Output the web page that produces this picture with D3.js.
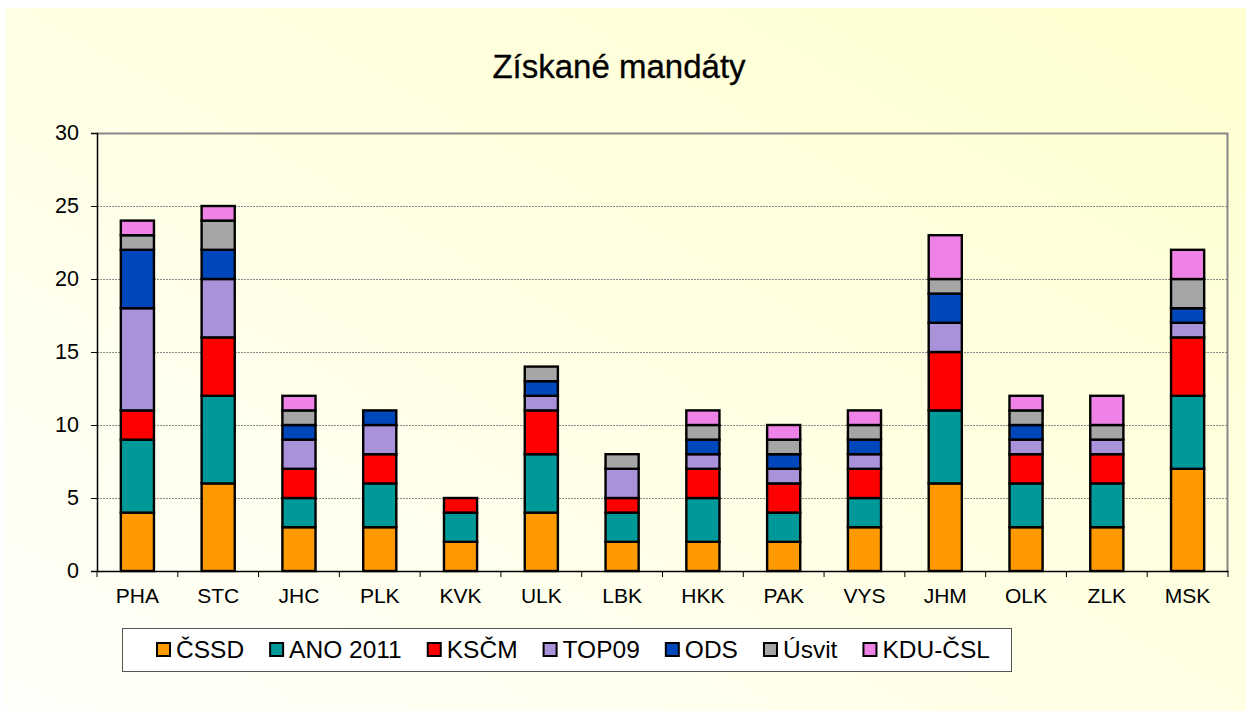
<!DOCTYPE html>
<html>
<head>
<meta charset="utf-8">
<script src="https://cdn.jsdelivr.net/npm/d3@7"></script>
<style>
  body { margin: 0; background: #fff; }
  svg { display: block; font-family: "Liberation Sans", Arial, sans-serif; }
</style>
</head>
<body>
<script>
const width = 1246;
const height = 711;

// data
const regions = ["PHA", "STC", "JHC", "PLK", "KVK", "ULK", "LBK", "HKK", "PAK", "VYS", "JHM", "OLK", "ZLK", "MSK"];
const parties = ["ČSSD", "ANO 2011", "KSČM", "TOP09", "ODS", "Úsvit", "KDU-ČSL"];
const cssd   = [4, 6, 3, 3, 2, 4, 2, 2, 2, 3, 6, 3, 3, 7];
const ano    = [5, 6, 2, 3, 2, 4, 2, 3, 2, 2, 5, 3, 3, 5];
const kscm   = [2, 4, 2, 2, 1, 3, 1, 2, 2, 2, 4, 2, 2, 4];
const top09  = [7, 4, 2, 2, 0, 1, 2, 1, 1, 1, 2, 1, 1, 1];
const ods    = [4, 2, 1, 1, 0, 1, 0, 1, 1, 1, 2, 1, 0, 1];
const usvit  = [1, 2, 1, 0, 0, 1, 1, 1, 1, 1, 1, 1, 1, 2];
const kdu    = [1, 1, 1, 0, 0, 0, 0, 1, 1, 1, 3, 1, 2, 2];
const yTicks = [0, 5, 10, 15, 20, 25, 30];
const colors = ["#FF9900", "#009999", "#FF0000", "#A992DA", "#0047BB", "#A6A6A6", "#EE82E6"];

const series = [cssd, ano, kscm, top09, ods, usvit, kdu];
const rows = regions.map((r, i) => {
  const o = {region: r};
  parties.forEach((p, j) => o[p] = series[j][i]);
  return o;
});
const stacked = d3.stack().keys(parties)(rows);

const svg = d3.select("body").append("svg")
  .attr("width", width)
  .attr("height", height);

const defs = svg.append("defs");
const grad = defs.append("linearGradient")
  .attr("id", "bg")
  .attr("x1", 1).attr("y1", 0).attr("x2", 0).attr("y2", 1);
grad.append("stop").attr("offset", 0).attr("stop-color", "#FFFFCF");
grad.append("stop").attr("offset", 1).attr("stop-color", "#FFFFFA");

svg.append("rect")
  .attr("x", 5).attr("y", 8)
  .attr("width", width - 5).attr("height", height - 8)
  .attr("fill", "url(#bg)");

const margin = {left: 97, right: 18, top: 133, bottom: 140};
const x = d3.scaleBand().domain(regions).range([margin.left, width - margin.right]).paddingInner(0.59).paddingOuter(0.295);
const y = d3.scaleLinear().domain([0, 30]).range([height - margin.bottom, margin.top]);
const color = d3.scaleOrdinal().domain(parties).range(colors);

// title
svg.append("text")
  .attr("x", 619).attr("y", 78)
  .attr("text-anchor", "middle")
  .attr("font-size", 33)
  .attr("fill", "#000")
  .attr("stroke", "#000")
  .attr("stroke-width", 0.3)
  .text("Získané mandáty");

// grid
svg.append("g")
  .selectAll("line")
  .data(yTicks.filter(d => d > 0 && d < 30))
  .join("line")
  .attr("x1", margin.left).attr("x2", width - margin.right)
  .attr("y1", d => y(d) + 0.5).attr("y2", d => y(d) + 0.5)
  .attr("stroke", "#8c8c8c")
  .attr("stroke-dasharray", "2,1");

// plot border top/right
svg.append("path")
  .attr("d", `M${margin.left},${y(30) + 0.5}H${width - margin.right - 0.5}V${y(0)}`)
  .attr("fill", "none")
  .attr("stroke", "#888")
  .attr("stroke-width", 2);

// bars
svg.append("g")
  .selectAll("g")
  .data(stacked)
  .join("g")
  .attr("fill", d => color(d.key))
  .selectAll("rect")
  .data(d => d.filter(s => s[1] > s[0]))
  .join("rect")
  .attr("x", d => x(d.data.region))
  .attr("y", d => y(d[1]))
  .attr("width", x.bandwidth())
  .attr("height", d => y(d[0]) - y(d[1]))
  .attr("stroke", "#000")
  .attr("stroke-width", 2.4);

// y axis
const yAxis = svg.append("g")
  .attr("transform", `translate(${margin.left},0)`)
  .call(d3.axisLeft(y).tickValues(yTicks).tickSize(6).tickPadding(12).tickFormat(d3.format("d")));
yAxis.selectAll("text").attr("font-size", 21.5).attr("fill", "#000").attr("font-family", "Liberation Sans, Arial, sans-serif");
yAxis.selectAll("line").attr("stroke", "#000");
yAxis.select(".domain").attr("stroke", "#000").attr("stroke-width", 1.5);

// x axis
const xAxis = svg.append("g")
  .attr("transform", `translate(0,${y(0)})`)
  .call(d3.axisBottom(x).tickSize(0).tickPadding(17));
xAxis.selectAll("text").attr("font-size", 21).attr("fill", "#000").attr("font-family", "Liberation Sans, Arial, sans-serif");
xAxis.select(".domain").attr("stroke", "#000").attr("stroke-width", 1.5);
const step = x.step();
xAxis.append("g")
  .selectAll("line")
  .data(d3.range(regions.length + 1))
  .join("line")
  .attr("x1", i => margin.left + i * step).attr("x2", i => margin.left + i * step)
  .attr("y1", 0).attr("y2", 6)
  .attr("stroke", "#000");

// legend
const legend = svg.append("g");
legend.append("rect")
  .attr("x", 122.5).attr("y", 628.5)
  .attr("width", 889).attr("height", 43)
  .attr("fill", "#fff")
  .attr("stroke", "#555")
  .attr("stroke-width", 1);

const legendStart = 156, legendEnd = 990;
const items = parties.map(p => {
  const item = legend.append("g");
  item.append("rect")
    .attr("x", 1).attr("y", 643)
    .attr("width", 13).attr("height", 13)
    .attr("fill", color(p))
    .attr("stroke", "#000")
    .attr("stroke-width", 2);
  const t = item.append("text")
    .attr("x", 20).attr("y", 658)
    .attr("font-size", 24.5)
    .attr("fill", "#000")
    .text(p);
  return {item, w: 20 + t.node().getComputedTextLength()};
});
const gap = (legendEnd - legendStart - d3.sum(items, d => d.w)) / (items.length - 1);
let lx = legendStart;
items.forEach(d => {
  d.item.attr("transform", `translate(${lx},0)`);
  lx += d.w + gap;
});
</script>
</body>
</html>
